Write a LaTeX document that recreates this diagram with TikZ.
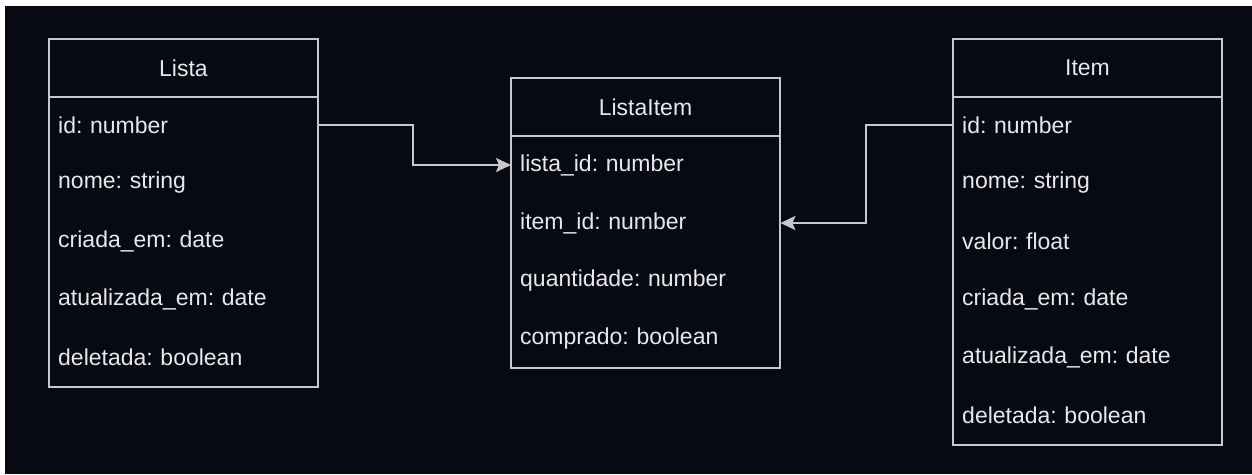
\documentclass[tikz,border=0pt]{standalone}
\usepackage{fontspec}
\setmainfont{Liberation Sans}
\usetikzlibrary{arrows.meta}
\frenchspacing
\definecolor{bgnight}{RGB}{7,10,19}
\definecolor{edgegray}{RGB}{200,200,204}
\definecolor{labelgray}{RGB}{232,232,234}
\tikzset{
  tablebox/.style={draw=edgegray,line width=2pt},
  header/.style={text=labelgray,font=\fontsize{23}{26}\selectfont},
  field/.style={anchor=west,text=labelgray,font=\fontsize{23}{26}\selectfont,
    text width=251pt,inner xsep=9pt,inner ysep=0pt,minimum height=58pt,align=left},
  link/.style={draw=edgegray,line width=2pt,-{Stealth[length=15pt,width=14pt,inset=3pt]}}
}
\begin{document}
\begin{tikzpicture}[x=1pt,y=-1pt]
    \fill[bgnight] (0,0) rectangle (1252,474);
    \fill[white] (0,0) rectangle (1252,6);
    \fill[white] (0,0) rectangle (5,474);
    % Lista
    \draw[tablebox] (49,39) rectangle (318,387);
    \draw[tablebox] (49,97) -- (318,97);
    \node[header] (lista) at (183.5,68) {Lista};
    \node[field] (lista-id) at (49,125) {id: number};
    \node[field] (lista-nome) at (49,183) {nome: string};
    \node[field] (lista-criada) at (49,241) {criada\_em: date};
    \node[field] (lista-atualizada) at (49,299) {atualizada\_em: date};
    \node[field] (lista-deletada) at (49,357) {deletada: boolean};
    % ListaItem
    \draw[tablebox] (511,78) rectangle (780,368);
    \draw[tablebox] (511,136) -- (780,136);
    \node[header] (li) at (645.5,107) {ListaItem};
    \node[field] (li-listaid) at (511,165) {lista\_id: number};
    \node[field] (li-itemid) at (511,223) {item\_id: number};
    \node[field] (li-quantidade) at (511,281) {quantidade: number};
    \node[field] (li-comprado) at (511,339) {comprado: boolean};
    % Item
    \draw[tablebox] (953,39) rectangle (1222,445);
    \draw[tablebox] (953,97) -- (1222,97);
    \node[header] (item) at (1087.5,68) {Item};
    \node[field] (item-id) at (953,125) {id: number};
    \node[field] (item-nome) at (953,183) {nome: string};
    \node[field] (item-valor) at (953,241) {valor: float};
    \node[field] (item-criada) at (953,299) {criada\_em: date};
    \node[field] (item-atualizada) at (953,357) {atualizada\_em: date};
    \node[field] (item-deletada) at (953,415) {deletada: boolean};
    % relations
    \draw[link] (lista-id.east) -- ++(95,0) |- (li-listaid.west);
    \draw[link] (item-id.west) -- ++(-87,0) |- (li-itemid.east);
\end{tikzpicture}
\end{document}
